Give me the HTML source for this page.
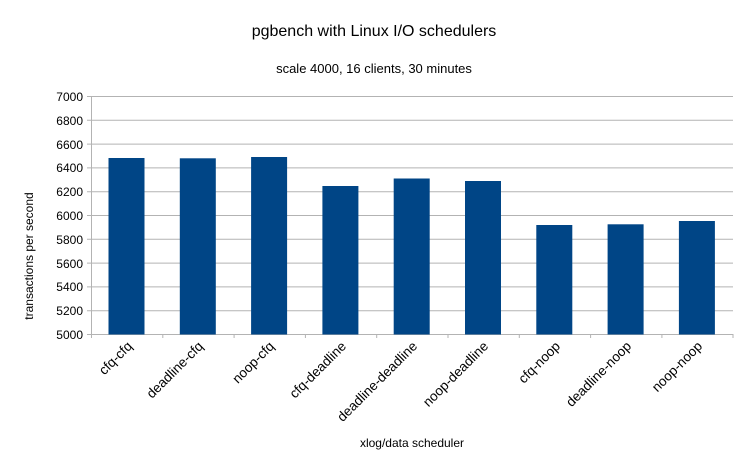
<!DOCTYPE html>
<html><head><style>body{margin:0;background:#fff}</style></head><body>
<svg width="748" height="471" xmlns="http://www.w3.org/2000/svg" font-family="Liberation Sans, sans-serif">
<rect width="748" height="471" fill="#fff"/>
<text x="374" y="36" font-size="16" text-anchor="middle">pgbench with Linux I/O schedulers</text>
<text x="374" y="73" font-size="13" text-anchor="middle">scale 4000, 16 clients, 30 minutes</text>
<g stroke="#b3b3b3" stroke-width="1">
<line x1="87" y1="96.5" x2="733" y2="96.5"/><line x1="87" y1="120.3" x2="733" y2="120.3"/>
<line x1="87" y1="144.1" x2="733" y2="144.1"/><line x1="87" y1="167.9" x2="733" y2="167.9"/>
<line x1="87" y1="191.7" x2="733" y2="191.7"/><line x1="87" y1="215.5" x2="733" y2="215.5"/>
<line x1="87" y1="239.3" x2="733" y2="239.3"/><line x1="87" y1="263.1" x2="733" y2="263.1"/>
<line x1="87" y1="286.9" x2="733" y2="286.9"/><line x1="87" y1="310.7" x2="733" y2="310.7"/>
<line x1="87" y1="334.5" x2="733" y2="334.5"/>
<line x1="91.5" y1="96" x2="91.5" y2="338"/>
<line x1="162.8" y1="334" x2="162.8" y2="338"/><line x1="234.1" y1="334" x2="234.1" y2="338"/>
<line x1="305.4" y1="334" x2="305.4" y2="338"/><line x1="376.7" y1="334" x2="376.7" y2="338"/>
<line x1="448" y1="334" x2="448" y2="338"/><line x1="519.3" y1="334" x2="519.3" y2="338"/>
<line x1="590.6" y1="334" x2="590.6" y2="338"/><line x1="661.9" y1="334" x2="661.9" y2="338"/>
<line x1="733" y1="334" x2="733" y2="338"/>
</g>
<g font-size="12" text-anchor="end" fill="#000">
<text x="83" y="101">7000</text><text x="83" y="125">6800</text><text x="83" y="149">6600</text>
<text x="83" y="172">6400</text><text x="83" y="196">6200</text><text x="83" y="220">6000</text>
<text x="83" y="244">5800</text><text x="83" y="268">5600</text><text x="83" y="291">5400</text>
<text x="83" y="315">5200</text><text x="83" y="339">5000</text>
</g>
<g fill="#004586">
<rect x="108.5" y="158" width="36" height="176.5"/>
<rect x="179.8" y="158.3" width="36" height="176.2"/>
<rect x="251.1" y="157" width="36" height="177.5"/>
<rect x="322.4" y="186" width="36" height="148.5"/>
<rect x="393.7" y="178.5" width="36" height="156"/>
<rect x="465" y="181" width="36" height="153.5"/>
<rect x="536.3" y="225" width="36" height="109.5"/>
<rect x="607.6" y="224.3" width="36" height="110.2"/>
<rect x="678.9" y="221" width="36" height="113.5"/>
</g>
<g font-size="13.5" text-anchor="end">
<text transform="translate(133,347) rotate(-45)">cfq-cfq</text>
<text transform="translate(204,347) rotate(-45)">deadline-cfq</text>
<text transform="translate(275,347) rotate(-45)">noop-cfq</text>
<text transform="translate(347,347) rotate(-45)">cfq-deadline</text>
<text transform="translate(418,347) rotate(-45)">deadline-deadline</text>
<text transform="translate(489,347) rotate(-45)">noop-deadline</text>
<text transform="translate(561,347) rotate(-45)">cfq-noop</text>
<text transform="translate(632,347) rotate(-45)">deadline-noop</text>
<text transform="translate(703,347) rotate(-45)">noop-noop</text>
</g>
<text x="412" y="447" font-size="12" text-anchor="middle">xlog/data scheduler</text>
<text transform="translate(33,256) rotate(-90)" font-size="12" text-anchor="middle">transactions per second</text>
</svg>
</body></html>
